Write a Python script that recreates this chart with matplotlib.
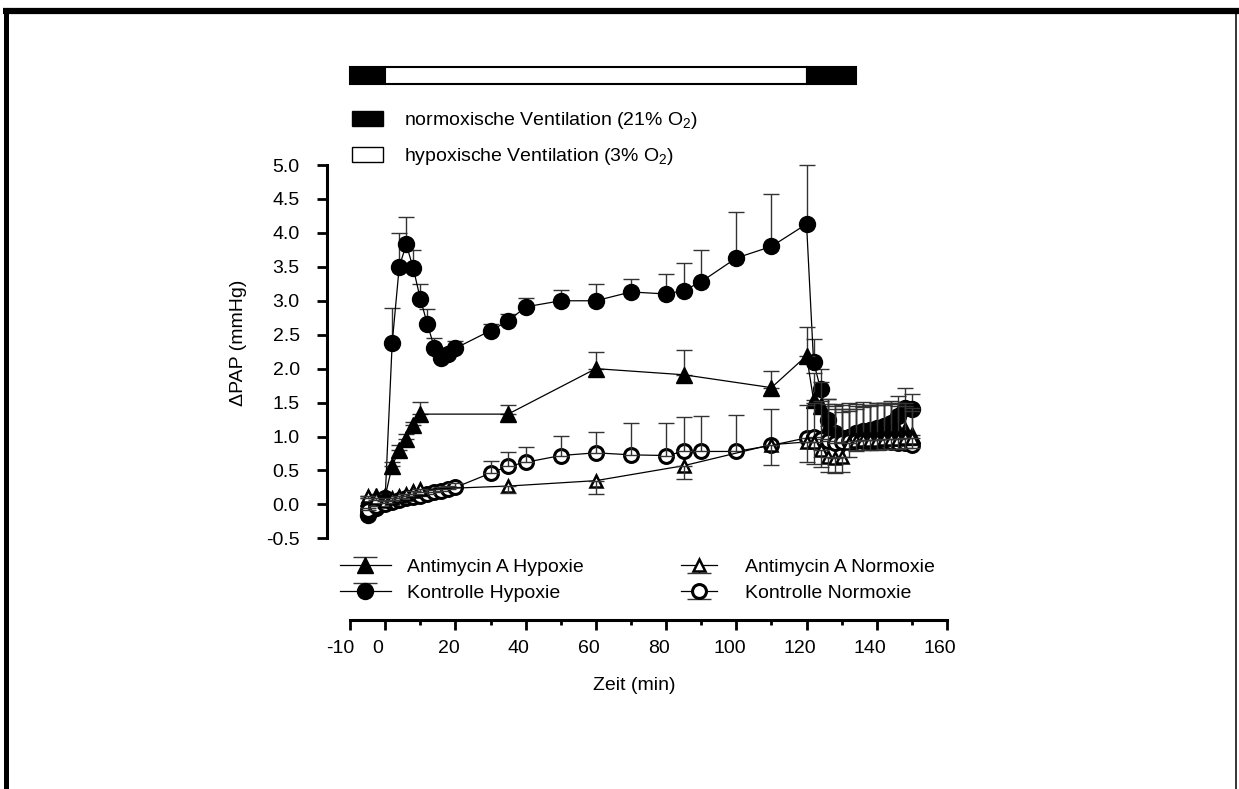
import numpy as np
import matplotlib
matplotlib.use('Agg')
import matplotlib.pyplot as plt
from matplotlib.lines import Line2D
from matplotlib.patches import Rectangle, Patch
from matplotlib.path import Path
from matplotlib.legend_handler import HandlerTuple
import matplotlib.transforms as mtransforms

plt.rcParams['font.family'] = ['Liberation Sans', 'DejaVu Sans']
plt.rcParams['mathtext.fontset'] = 'custom'
plt.rcParams['mathtext.rm'] = 'Liberation Sans'
plt.rcParams['mathtext.it'] = 'Liberation Sans:italic'

# ---------------- data ----------------
t_kontrolle = [-5, -2.5, 0, 2, 4, 6, 8, 10, 12, 14, 16, 18, 20,
               30, 35, 40, 50, 60, 70, 80, 85, 90, 100, 110, 120,
               122, 124, 126, 128, 130, 132, 134, 136, 138, 140, 142, 144, 146, 148, 150]
kontrolle_hyp = [-0.15, -0.05, 0.10,
                 2.38, 3.50, 3.83, 3.48, 3.03, 2.66, 2.31, 2.15, 2.22, 2.30,
                 2.56, 2.70, 2.91, 3.00, 3.00, 3.13, 3.10, 3.15, 3.28, 3.63, 3.80, 4.13,
                 2.10, 1.70, 1.25, 1.05, 0.98, 1.00, 1.05, 1.08, 1.10, 1.12, 1.15, 1.20, 1.30, 1.42, 1.40]
kontrolle_hyp_sem = [0.04, 0.04, 0.04,
                     0.52, 0.50, 0.40, 0.27, 0.21, 0.22, 0.14, 0.08, 0.08, 0.10,
                     0.10, 0.11, 0.13, 0.16, 0.24, 0.19, 0.30, 0.40, 0.47, 0.68, 0.78, 0.87,
                     0.33, 0.30, 0.30, 0.35, 0.38, 0.38, 0.36, 0.36, 0.35, 0.35, 0.34, 0.33, 0.30, 0.30, 0.22]
kontrolle_norm = [-0.08, -0.03, 0.00,
                  0.04, 0.07, 0.09, 0.11, 0.13, 0.16, 0.18, 0.20, 0.22, 0.25,
                  0.46, 0.56, 0.62, 0.72, 0.76, 0.73, 0.72, 0.78, 0.78, 0.78, 0.87, 0.98,
                  1.00, 0.97, 0.93, 0.90, 0.92, 0.93, 0.93, 0.93, 0.92, 0.92, 0.92, 0.92, 0.90, 0.90, 0.88]
kontrolle_norm_sem = [0.03, 0.03, 0.03,
                      0.03, 0.04, 0.04, 0.05, 0.05, 0.05, 0.05, 0.05, 0.05, 0.06,
                      0.18, 0.21, 0.22, 0.29, 0.30, 0.47, 0.48, 0.51, 0.52, 0.54, 0.53, 0.48,
                      0.50, 0.55, 0.55, 0.58, 0.55, 0.56, 0.55, 0.58, 0.55, 0.57, 0.55, 0.56, 0.55, 0.55, 0.50]

t_antimycin = [-5, -2.5, 0, 2, 4, 6, 8, 10, 35, 60, 85, 110, 120,
               122, 124, 126, 128, 130, 132, 134, 136, 138, 140, 142, 144, 146, 148, 150]
antimycin_hyp = [0.10, 0.12, 0.12,
                 0.57, 0.80, 0.96, 1.17, 1.33,
                 1.33, 2.00, 1.91, 1.72, 2.19,
                 1.54, 1.45, 1.15, 1.00, 0.95, 0.95, 1.00, 1.00, 1.02, 1.05, 1.05, 1.08, 1.10, 1.10, 1.02]
antimycin_hyp_sem = [0.03, 0.03, 0.03,
                     0.06, 0.08, 0.07, 0.05, 0.18,
                     0.14, 0.25, 0.36, 0.25, 0.42,
                     0.40, 0.35, 0.40, 0.45, 0.45, 0.45, 0.45, 0.45, 0.45, 0.45, 0.45, 0.42, 0.40, 0.40, 0.40]
antimycin_norm = [0.12, 0.10, 0.05,
                  0.10, 0.13, 0.16, 0.20, 0.22,
                  0.27, 0.35, 0.57, 0.88, 0.92,
                  0.92, 0.80, 0.70, 0.68, 0.70, 0.90, 0.93, 0.95, 0.95, 0.95, 0.96, 0.97, 0.97, 0.98, 0.98]
antimycin_norm_sem = [0.03, 0.03, 0.03,
                      0.03, 0.03, 0.04, 0.04, 0.04,
                      0.10, 0.19, 0.19, 0.30, 0.30,
                      0.32, 0.25, 0.22, 0.22, 0.22, 0.20, 0.15, 0.15, 0.15, 0.15, 0.15, 0.15, 0.15, 0.15, 0.15]

# ventilation phases (top bar)
phase_start = [-10, 0, 120]
phase_end = [0, 120, 134]
phase_color = ['black', 'white', 'black']

x_ticks = [-10, 0, 20, 40, 60, 80, 100, 120, 140, 160]
x_minor = [10, 30, 50, 70, 90, 110, 130, 150]
y_ticks = [-0.5, 0.0, 0.5, 1.0, 1.5, 2.0, 2.5, 3.0, 3.5, 4.0, 4.5, 5.0]

# ---------------- figure ----------------
W, H = 1239, 789
fig = plt.figure(figsize=(W / 100, H / 100), dpi=100)
ax = fig.add_axes([327 / W, 1 - 620 / H, (947 - 327) / W, (620 - 165) / H])
ax.set_xlim(-16.57, 160)
ax.set_ylim(-1.703, 5.0)

FS = 14
ecol = '#333333'
err_kw = dict(fmt='none', ecolor=ecol, elinewidth=1.0, capsize=6, capthick=1.0)

z = np.zeros

# Kontrolle Hypoxie (filled circle, SEM up)
ax.errorbar(t_kontrolle, kontrolle_hyp, yerr=[z(len(kontrolle_hyp)), kontrolle_hyp_sem], zorder=2, **err_kw)
ax.plot(t_kontrolle, kontrolle_hyp, color='black', lw=0.9, marker='o', ms=11.5,
        mfc='black', mec='black', zorder=3)
# Antimycin A Hypoxie (filled triangle, SEM up)
ax.errorbar(t_antimycin, antimycin_hyp, yerr=[z(len(antimycin_hyp)), antimycin_hyp_sem], zorder=4, **err_kw)
ax.plot(t_antimycin, antimycin_hyp, color='black', lw=0.9, marker='^', ms=11.5,
        mfc='black', mec='black', zorder=5)
# Kontrolle Normoxie (open circle, SEM up)
ax.plot(t_kontrolle, kontrolle_norm, color='black', lw=0.9, marker='o', ms=10,
        mfc='white', mec='black', mew=2.2, zorder=6)
ax.errorbar(t_kontrolle, kontrolle_norm, yerr=[z(len(kontrolle_norm)), kontrolle_norm_sem], zorder=7, **err_kw)
# Antimycin A Normoxie (open triangle, SEM down)
ax.plot(t_antimycin, antimycin_norm, color='black', lw=0.9, marker='^', ms=8.5,
        mfc='white', mec='black', mew=1.8, zorder=8)
ax.errorbar(t_antimycin, antimycin_norm, yerr=[antimycin_norm_sem, z(len(antimycin_norm))], zorder=9, **err_kw)

for a in ax.get_children():
    try:
        a.set_clip_on(False)
    except Exception:
        pass

# ---------------- axes styling ----------------
for s in ['top', 'right']:
    ax.spines[s].set_visible(False)
ax.spines['left'].set_bounds(-0.5, 5.0)
ax.spines['bottom'].set_bounds(-10, 160)
ax.spines['left'].set_linewidth(2.2)
ax.spines['bottom'].set_linewidth(2.2)
ax.spines['left'].set_capstyle('projecting')
ax.spines['bottom'].set_capstyle('projecting')

ax.set_yticks(y_ticks)
ax.set_yticklabels([f'{v:.1f}' for v in y_ticks])
ax.set_xticks(x_ticks)
ax.set_xticklabels([str(v) for v in x_ticks])
ax.set_xticks(x_minor, minor=True)
ax.tick_params(axis='y', which='major', direction='out', length=7.2, width=2.0,
               pad=12.5, labelsize=FS)
ax.tick_params(axis='x', which='major', direction='out', length=7.5, width=2.0,
               pad=7, labelsize=FS)
ax.tick_params(axis='x', which='minor', direction='out', length=3.5, width=2.0)

for lab in ax.get_xticklabels():
    dx = -10 if lab.get_text() == '-10' else -7
    lab.set_transform(lab.get_transform() +
                      mtransforms.ScaledTranslation(dx / 100, 0, fig.dpi_scale_trans))

ax.set_ylabel('ΔPAP (mmHg)', fontsize=FS)
ax.yaxis.set_label_coords(239 / W, 1 - 343 / H, transform=fig.transFigure)
ax.set_xlabel('Zeit (min)', fontsize=FS)
ax.xaxis.set_label_coords(634 / W, 1 - 685 / H, transform=fig.transFigure)
ax.xaxis.label.set_va('center')
ax.yaxis.label.set_va('center')

# ---------------- top ventilation bar ----------------
btrans = mtransforms.blended_transform_factory(ax.transData, fig.transFigure)
ybar0 = 1 - 84 / H
hbar = 17 / H
for xs, xe, c in zip(phase_start, phase_end, phase_color):
    r = Rectangle((xs, ybar0), xe - xs, hbar, transform=btrans, facecolor=c,
                  edgecolor='black', lw=1.5, clip_on=False)
    fig.add_artist(r)

# ventilation legend
vent_handles = [Patch(facecolor='black', edgecolor='black', lw=1.0),
                Patch(facecolor='white', edgecolor='black', lw=1.0)]
vent_labels = ['normoxische Ventilation (21% O$_2$)', 'hypoxische Ventilation (3% O$_2$)']
fig.legend(vent_handles, vent_labels, loc='upper left',
           bbox_to_anchor=(352 / W, 1 - 110 / H), frameon=False, fontsize=FS,
           handlelength=1.6, handleheight=0.85, handletextpad=1.1,
           labelspacing=0.78, borderpad=0, borderaxespad=0)

# ---------------- series legend ----------------
cap_up = Path([(-1.4, 1), (1.4, 1), (0, 1), (0, 0)],
              [Path.MOVETO, Path.LINETO, Path.MOVETO, Path.LINETO])
cap_dn = Path([(-1.4, -1), (1.4, -1), (0, -1), (0, 0)],
              [Path.MOVETO, Path.LINETO, Path.MOVETO, Path.LINETO])


def handle(marker, ms, mfc, mew, cap):
    capl = Line2D([], [], linestyle='none', marker=cap, ms=17, mec=ecol, mew=1.0)
    main = Line2D([], [], color='black', lw=0.9, marker=marker, ms=ms, mfc=mfc,
                  mec='black', mew=mew)
    return (capl, main)


left_h = [handle('^', 11.5, 'black', 1.0, cap_up), handle('o', 11.5, 'black', 1.0, cap_up)]
left_l = ['Antimycin A Hypoxie', 'Kontrolle Hypoxie']
right_h = [handle('^', 8.5, 'white', 1.8, cap_dn), handle('o', 10, 'white', 2.2, cap_dn)]
right_l = ['Antimycin A Normoxie', 'Kontrolle Normoxie']

hmap = {tuple: HandlerTuple(ndivide=1, pad=0)}
leg1 = ax.legend(left_h, left_l, loc='upper left', bbox_to_anchor=(340 / W, 1 - 558 / H),
                 bbox_transform=fig.transFigure, frameon=False, fontsize=FS,
                 handlelength=2.6, handletextpad=0.85, labelspacing=0.45,
                 borderpad=0, borderaxespad=0, handler_map=hmap)
ax.add_artist(leg1)
leg2 = ax.legend(right_h, right_l, loc='upper left', bbox_to_anchor=(681 / W, 1 - 558 / H),
                 bbox_transform=fig.transFigure, frameon=False, fontsize=FS,
                 handlelength=1.85, handletextpad=1.45, labelspacing=0.45,
                 borderpad=0, borderaxespad=0, handler_map=hmap)

# ---------------- page frame ----------------
fig.add_artist(Line2D([3 / W, 1], [1 - 11 / H, 1 - 11 / H], lw=4.5, color='black',
                      transform=fig.transFigure, solid_capstyle='butt'))
fig.add_artist(Line2D([5.5 / W, 5.5 / W], [0, 1 - 8 / H], lw=3.6, color='black',
                      transform=fig.transFigure, solid_capstyle='butt'))
fig.add_artist(Line2D([1236 / W, 1236 / W], [0, 1 - 11 / H], lw=1.1, color='black',
                      transform=fig.transFigure, solid_capstyle='butt'))

fig.savefig('out.png', dpi=100)
